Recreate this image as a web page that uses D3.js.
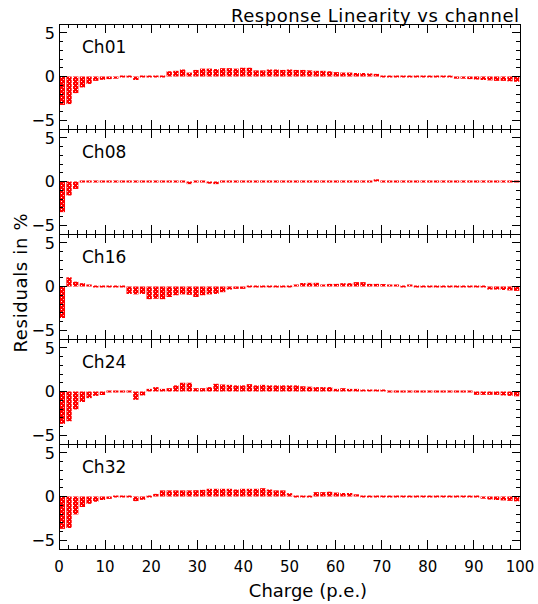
<!DOCTYPE html>
<html>
<head>
<meta charset="utf-8">
<script src="https://cdn.jsdelivr.net/npm/d3@7"></script>
<style>
body { margin: 0; background: #fff; }
text { font-family: "DejaVu Sans", sans-serif; fill: #000; }
</style>
</head>
<body>
<script>
var svgWidth = 538;
var svgHeight = 604;

// data: residual per bin, 69 bins over 0..100 p.e.
var channels = ["Ch01", "Ch08", "Ch16", "Ch24", "Ch32"];
var ch01 = [-3.25,-3.15,-1.9,-1.25,-0.85,-0.5,-0.38,-0.3,-0.25,-0.2,-0.1,-0.4,-0.05,0.15,0.0,0.2,0.6,0.65,0.8,0.45,0.75,0.9,0.9,0.85,0.95,0.95,0.9,1.0,1.0,0.7,0.7,
	0.8,0.8,0.75,0.8,0.75,0.75,0.7,0.65,0.65,0.6,0.5,0.45,0.45,0.4,0.4,0.35,0.3,0.2,0.15,0.1,0.1,0.05,0.0,0.0,-0.05,-0.05,-0.1,-0.2,-0.25,-0.25,-0.3,-0.35,-0.4,-0.45,-0.5,-0.5,-0.55,-0.6];
var ch08 = [-3.5,-1.6,-0.85,0.05,0.05,0.15,0.05,0.05,0.15,0.05,0.0,0.05,0.1,0.2,0.0,-0.15,-0.15,0.1,0.0,-0.3,-0.2,-0.1,-0.25,-0.3,-0.15,0.0,0.0,0.05,0.0,
	0.0,-0.05,0.0,0.05,0.0,0.05,0.05,0.15,0.2,0.15,0.05,0.0,0.05,0.1,0.1,0.1,0.15,0.2,0.25,0.2,0.15,0.1,0.1,0.1,0.1,0.05,0.1,0.05,0.0,0.0,0.0,-0.05,0.0,-0.05,-0.05,-0.1,-0.15,-0.15,-0.2,-0.15];
var ch16 = [-3.6,1.05,0.55,0.38,0.23,0.15,0.15,0.05,0.05,0.02,-0.85,-0.9,-0.85,-1.45,-1.4,-1.45,-1.2,-1.0,-0.9,-0.95,-1.2,-1.0,-0.9,-0.85,-0.65,-0.35,-0.27,-0.27,-0.08,0.0,0.0,0.02,0.05,0.05,0.2,0.23,
	0.4,0.42,0.42,0.23,0.3,0.3,0.38,0.38,0.5,0.5,0.3,0.3,0.28,0.23,0.23,0.2,0.23,0.2,0.1,0.1,0.08,0.02,0.0,0.0,-0.08,-0.08,-0.2,-0.2,-0.35,-0.35,-0.4,-0.45,-0.5];
var ch24 = [-3.7,-3.4,-2.05,-1.2,-0.76,-0.5,-0.4,-0.2,-0.05,0.0,0.0,-0.95,-0.45,0.3,0.5,0.3,0.38,0.7,1.0,1.0,0.38,0.38,0.5,0.88,0.8,0.76,0.7,0.7,0.84,0.7,0.76,0.7,0.7,0.7,0.7,0.7,
	0.6,0.55,0.5,0.5,0.5,0.3,0.38,0.3,0.3,0.23,0.23,0.23,0.23,0.12,0.12,0.02,0.02,0.02,-0.05,0.0,0.0,0.0,-0.15,-0.15,-0.15,-0.2,-0.38,-0.38,-0.38,-0.38,-0.45,-0.5,-0.55];
var ch32 = [-3.7,-3.6,-2.05,-1.2,-0.84,-0.6,-0.4,-0.27,-0.12,-0.05,0.0,-0.53,-0.38,0.1,0.3,0.7,0.7,0.7,0.7,0.7,0.72,0.76,0.88,0.88,0.88,0.88,0.8,0.88,0.88,0.88,0.95,0.8,0.7,0.7,0.38,-0.2,
	0.12,0.12,0.5,0.5,0.55,0.45,0.4,0.4,0.25,0.2,0.2,0.15,0.15,0.1,0.05,0.05,0.05,0.05,0.02,0.0,-0.05,-0.05,-0.05,-0.1,-0.15,-0.2,-0.2,-0.25,-0.35,-0.4,-0.45,-0.5,-0.55];
var series = [ch01, ch08, ch16, ch24, ch32];

var xTickLabels = [0, 10, 20, 30, 40, 50, 60, 70, 80, 90, 100];
var yTickLabels = [5, 0, -5];

var nBins = 69;
var binW = 100 / nBins;

var frameLeft = 59, frameRight = 520;
var panelTop = 24, panelH = 105;

var svg = d3.select("body").append("svg")
	.attr("width", svgWidth)
	.attr("height", svgHeight);

// dotted red fill, like the root pattern fill
var pat = svg.append("defs").append("pattern")
	.attr("id", "dots")
	.attr("patternUnits", "userSpaceOnUse")
	.attr("width", 4).attr("height", 4);
pat.append("rect").attr("width", 4).attr("height", 4).attr("fill", "#ff0000");
pat.append("rect").attr("x", 1).attr("y", 1).attr("width", 1).attr("height", 1).attr("fill", "#fff");
pat.append("rect").attr("x", 3).attr("y", 3).attr("width", 1).attr("height", 1).attr("fill", "#ffb0b0");

var x = d3.scaleLinear().domain([0, 100]).range([frameLeft, frameRight]);

series.forEach(function(vals, k) {
	drawPanel(vals, k);
});

// x tick labels only under last panel
svg.append("g").selectAll("text")
	.data(xTickLabels)
	.enter().append("text")
	.attr("x", function(d) { return x(d); })
	.attr("y", 572)
	.attr("text-anchor", "middle")
	.style("font-size", "15px")
	.text(function(d) { return d; });

svg.append("text")
	.attr("x", 308).attr("y", 597)
	.attr("text-anchor", "middle")
	.style("font-size", "18px")
	.text("Charge (p.e.)");

svg.append("text")
	.attr("transform", "translate(27,283) rotate(-90)")
	.attr("text-anchor", "middle")
	.style("font-size", "18px")
	.attr("textLength", 139)
	.text("Residuals in %");

svg.append("text")
	.attr("x", 519).attr("y", 22)
	.attr("text-anchor", "end")
	.style("font-size", "18px")
	.attr("textLength", 288)
	.text("Response Linearity vs channel");

function drawPanel(vals, k) {
	var top = panelTop + k * panelH;
	var y = d3.scaleLinear().domain([-6, 6]).range([top + panelH, top]);
	var g = svg.append("g").attr("class", "panel");
	var y0 = y(0);

	// bars from zero to value
	g.append("g").selectAll("rect")
		.data(vals)
		.enter().append("rect")
		.attr("x", function(d, i) { return x((i + 0.1) * binW); })
		.attr("width", function(d, i) { return x((i + 0.9) * binW) - x((i + 0.1) * binW); })
		.attr("y", function(d) {
			var h = Math.abs(y(d) - y0);
			if (h < 2) return y0 - 1;
			return d > 0 ? y(d) : y0;
		})
		.attr("height", function(d) { return Math.max(Math.abs(y(d) - y0), 2); })
		.attr("fill", "url(#dots)");

	var ax = g.append("g").attr("stroke", "#000").attr("stroke-width", 1).attr("shape-rendering", "crispEdges");

	// x ticks, bottom (up) and top (down)
	var xt = d3.range(0, 101, 2);
	xt.forEach(function(v) {
		var len = (v % 10 === 0) ? 9 : 4;
		ax.append("line").attr("x1", x(v)).attr("x2", x(v)).attr("y1", top + panelH).attr("y2", top + panelH - len);
		ax.append("line").attr("x1", x(v)).attr("x2", x(v)).attr("y1", top).attr("y2", top + len);
	});
	// y ticks, left and right
	var yt = d3.range(-5, 6, 1);
	yt.forEach(function(v) {
		var len = (v % 5 === 0) ? 8 : 4;
		ax.append("line").attr("x1", frameLeft).attr("x2", frameLeft + len).attr("y1", y(v)).attr("y2", y(v));
		ax.append("line").attr("x1", frameRight).attr("x2", frameRight - len).attr("y1", y(v)).attr("y2", y(v));
	});

	ax.append("rect")
		.attr("x", frameLeft).attr("y", top)
		.attr("width", frameRight - frameLeft).attr("height", panelH)
		.attr("fill", "none");

	g.append("g").selectAll("text")
		.data(yTickLabels)
		.enter().append("text")
		.attr("x", 55)
		.attr("y", function(d) { return y(d); })
		.attr("dy", "0.36em")
		.attr("text-anchor", "end")
		.style("font-size", "16px")
		.text(function(d) { return d < 0 ? "\u2212" + Math.abs(d) : d; });

	g.append("text")
		.attr("x", 82).attr("y", top + 29)
		.style("font-size", "17px")
		.text(channels[k]);
}
</script>
</body>
</html>
